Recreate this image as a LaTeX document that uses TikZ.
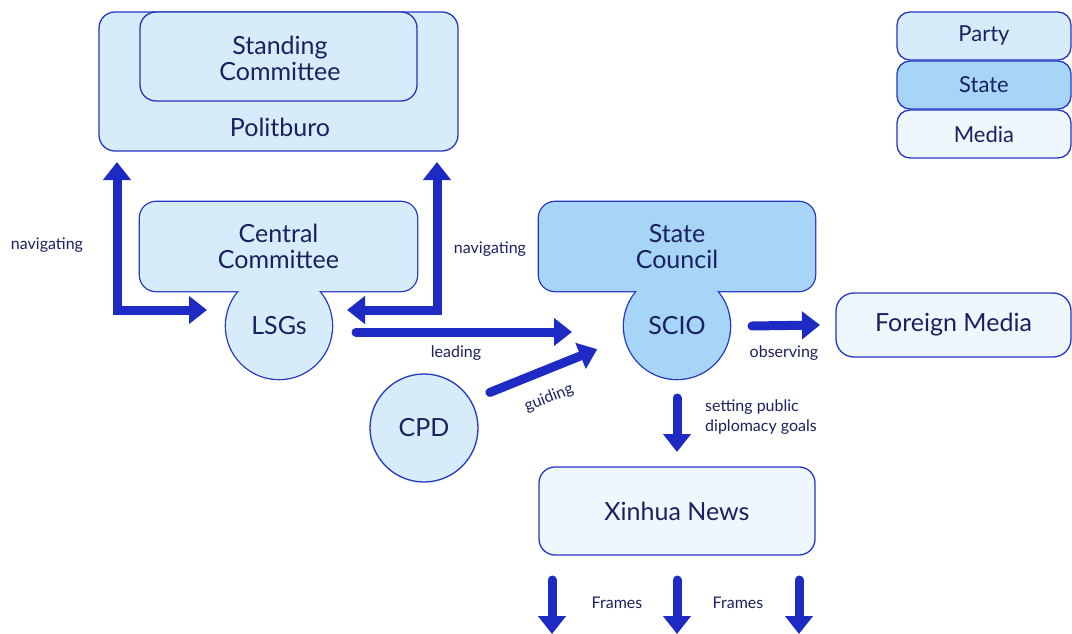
\documentclass[tikz,border=0pt]{standalone}
\usepackage{fontspec}
\setmainfont{Lato}
\usetikzlibrary{arrows.meta,positioning,backgrounds}
\definecolor{partyfill}{HTML}{D6ECFB}
\definecolor{statefill}{HTML}{A6D5F8}
\definecolor{mediafill}{HTML}{EEF7FE}
\definecolor{edgeblue}{HTML}{2536C2}
\definecolor{inkblue}{HTML}{1B2060}
\definecolor{flowblue}{HTML}{1D2BC4}
\newcommand{\cP}{partyfill}
\newcommand{\cS}{statefill}
\newcommand{\cM}{mediafill}
\newcommand{\bigfont}{\fontsize{25}{26}\selectfont}
\newcommand{\smallfont}{\fontsize{16}{20}\selectfont}

\begin{document}
\begin{tikzpicture}[x=1pt,y=-1pt,
    box/.style={draw=edgeblue, line width=1.3pt, rounded corners=16pt, outer sep=0pt,
                text=inkblue, font=\bigfont, align=center, inner sep=0pt},
    merged/.style={fill=#1, rounded corners=16pt, outer sep=0pt,
                text=inkblue, font=\bigfont, align=center, inner sep=0pt},
    blob/.style={circle, fill=#1, outer sep=0pt, minimum size=106pt,
                text=inkblue, font=\bigfont, inner sep=0pt},
    rim/.style={draw=edgeblue, line width=2.6pt},
    lbl/.style={text=inkblue, font=\smallfont, inner sep=0pt},
    key/.style={box, rounded corners=13pt, minimum width=174pt, minimum height=48pt,
                font=\fontsize{22}{24}\selectfont},
    flow/.style={draw=flowblue, line width=9pt, line cap=round, line join=miter,
                -{Triangle[width=27pt,length=18pt]}},
    flow2/.style={flow, {Triangle[width=27pt,length=18pt]}-{Triangle[width=27pt,length=18pt]}}]
    \useasboundingbox (0,0) rectangle (1072,634);
    % --- --- --- Politburo
    \node[box, fill=\cP, minimum width=359pt, minimum height=139pt] (pb) at (278.5,81.5) {};
    \node[box, fill=\cP, minimum width=277pt, minimum height=89pt] (sc) at (278.5,56.5) {};
    \node[text=inkblue, font=\bigfont, align=center, inner sep=0pt] (sct) at (280,58) {Standing\\Committee};
    \node[text=inkblue, font=\bigfont, inner sep=0pt] (pbl) at (280,127) {Politburo};
    % --- --- --- Central Committee and LSGs
    \node[merged=\cP, minimum width=277pt, minimum height=89pt] (cc) at (278.5,246.5) {Central\\Committee};
    \node[blob=\cP] (lsg) at (279,326) {LSGs};
    % --- --- --- State Council and SCIO
    \node[merged=\cS, minimum width=276pt, minimum height=89pt] (st) at (677,246.5) {State\\Council};
    \node[blob=\cS] (scio) at (677,326) {SCIO};
    % --- --- --- outlines under the merged shapes
    \begin{scope}[on background layer]
        \draw[rim, rounded corners=16pt] (cc.north west) rectangle (cc.south east);
        \draw[rim] (lsg) circle[radius=53pt];
        \draw[rim, rounded corners=16pt] (st.north west) rectangle (st.south east);
        \draw[rim] (scio) circle[radius=53pt];
    \end{scope}
    % --- --- --- other nodes
    \node[box, fill=\cM, rounded corners=18pt, minimum width=235pt, minimum height=64pt] (fm) at (953.5,325) {Foreign Media};
    \node[box, circle, fill=\cP, minimum size=108pt] (cpd) at (424,428) {CPD};
    \node[box, fill=\cM, minimum width=276pt, minimum height=88pt] (xn) at (677,511) {Xinhua News};
    % --- --- --- legend
    \node[key, fill=\cP] (party) at (984,36) {Party};
    \node[key, fill=\cS, below=1pt of party] (state) {State};
    \node[key, fill=\cM, below=1pt of state] (media) {Media};
    % === === === navigating
    \draw[flow2] ([xshift=-19pt,yshift=16pt]lsg.west) -| ([xshift=18pt,yshift=-11pt]pb.south west);
    \draw[flow2] ([xshift=15pt,yshift=16pt]lsg.east) -| ([xshift=-21pt,yshift=-11pt]pb.south east);
    \node[lbl] (nav1) at (47,245) {navigating};
    \node[lbl] (nav2) at (490,249) {navigating};
    % === === === leading, guiding, observing
    \draw[flow] ([xshift=24pt,yshift=-6pt]lsg.east) -- ([xshift=-52pt,yshift=-6pt]scio.west);
    \node[lbl] (lead) at (456,353) {leading};
    \draw[flow, shorten <=71pt, shorten >=86pt] ([yshift=9pt]cpd.center) -- ([yshift=9pt]scio.center);
    \node[lbl, rotate=21.4] (guide) at (549,398) {guiding};
    \draw[flow] ([xshift=22pt]scio.east) -- ([xshift=-16pt]fm.west);
    \node[lbl] (obs) at (784,353) {observing};
    % === === === setting goals
    \draw[flow] ([yshift=-19pt]scio.south) -- ([yshift=15pt]xn.north);
    \node[lbl, anchor=west, align=left] (goals) at (705,417) {setting public\\diplomacy goals};
    % === === === frames
    \coordinate (f1) at (552,634);
    \coordinate (f2) at (677,634);
    \coordinate (f3) at (799,634);
    \foreach \f in {f1,f2,f3}
        \draw[flow, shorten <=25pt] (xn.south -| \f) -- (\f);
    \node[lbl] (fr1) at (617,603) {Frames};
    \node[lbl] (fr2) at (738,603) {Frames};
\end{tikzpicture}
\end{document}
